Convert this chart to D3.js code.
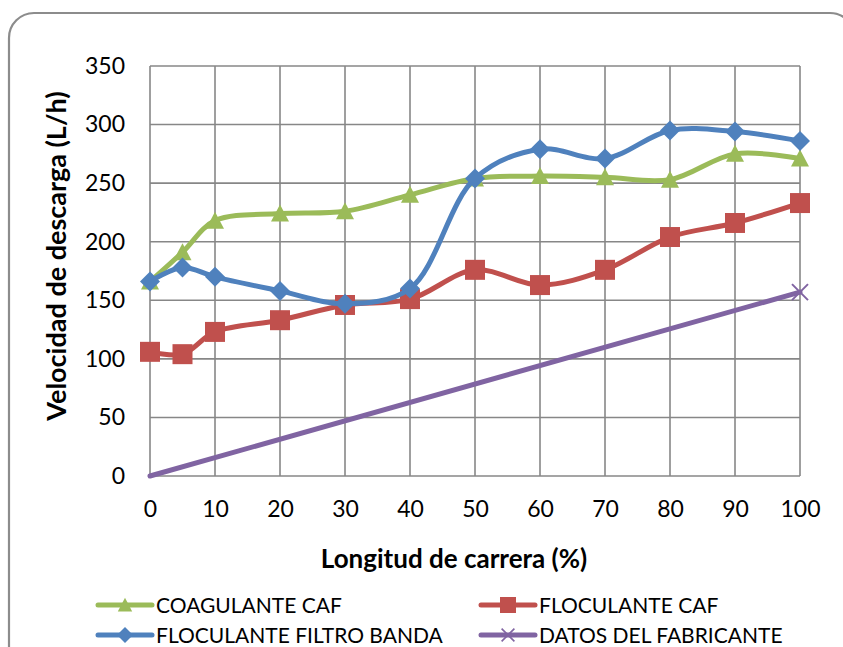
<!DOCTYPE html>
<html>
<head>
<meta charset="utf-8">
<script src="https://cdn.jsdelivr.net/npm/d3@7"></script>
<style>
  html, body { margin: 0; padding: 0; background: #fff; }
  svg { display: block; font-family: Lato, "Open Sans", sans-serif; }
</style>
</head>
<body>
<svg id="chart" width="843" height="647"></svg>
<script>
// Longitud de carrera (%) on x, velocidad de descarga (L/h) on y
const xValues = [0, 5, 10, 20, 30, 40, 50, 60, 70, 80, 90, 100];
const coagulanteCAF = [166, 191, 218, 224, 226, 240, 254, 256, 255, 253, 275, 271];
const floculanteCAF = [106, 104, 123, 133, 146, 151, 176, 163, 176, 204, 216, 233];
const floculanteFiltroBanda = [166, 178, 170, 158, 147, 160, 254, 279, 271, 295, 294, 286];
const fabricanteX = [0, 100];
const fabricanteY = [0, 157];

const xTicks = [0, 10, 20, 30, 40, 50, 60, 70, 80, 90, 100];
const yTicks = [0, 50, 100, 150, 200, 250, 300, 350];

const seriesNames = ["COAGULANTE CAF", "FLOCULANTE CAF", "FLOCULANTE FILTRO BANDA", "DATOS DEL FABRICANTE"];
const seriesColors = ["#9BBB59", "#C0504D", "#4F81BD", "#8064A2"];
const seriesMarkers = ["triangle", "square", "diamond", "cross"];

const svg = d3.select("#chart");

// Outer rounded frame
svg.append("rect")
  .attr("x", 9).attr("y", 13)
  .attr("width", 846).attr("height", 680)
  .attr("rx", 25).attr("ry", 25)
  .attr("fill", "#fff")
  .attr("stroke", "#8c8c8c")
  .attr("stroke-width", 2.2);

const plot = { left: 150, right: 800, top: 66, bottom: 476 };

const x = d3.scaleLinear().domain([0, 100]).range([plot.left, plot.right]);
const y = d3.scaleLinear().domain([0, 350]).range([plot.bottom, plot.top]);

const gridColor = "#878787";

// Grid
const grid = svg.append("g");
grid.selectAll("line.h").data(yTicks).join("line")
  .attr("x1", plot.left).attr("x2", plot.right)
  .attr("y1", d => y(d)).attr("y2", d => y(d))
  .attr("stroke", gridColor).attr("stroke-width", 1.6);
grid.selectAll("line.v").data(xTicks).join("line")
  .attr("x1", d => x(d)).attr("x2", d => x(d))
  .attr("y1", plot.top).attr("y2", plot.bottom)
  .attr("stroke", gridColor).attr("stroke-width", 1.6);

// Axes (labels only; lines come from the grid)
const yAxis = svg.append("g")
  .attr("transform", `translate(${plot.left},0)`)
  .call(d3.axisLeft(y).tickValues(yTicks).tickSize(0).tickPadding(25));
const xAxis = svg.append("g")
  .attr("transform", `translate(0,${plot.bottom})`)
  .call(d3.axisBottom(x).tickValues(xTicks).tickSize(0).tickPadding(25));
[yAxis, xAxis].forEach(a => {
  a.select(".domain").remove();
  a.selectAll("text")
    .attr("font-family", "Lato, 'Open Sans', sans-serif")
    .attr("font-size", 23)
    .attr("fill", "#000");
});

// Axis titles
svg.append("text")
  .attr("x", 454).attr("y", 568)
  .attr("text-anchor", "middle")
  .attr("font-size", 26).attr("font-weight", "bold")
  .text("Longitud de carrera (%)");
svg.append("text")
  .attr("transform", "translate(66,256) rotate(-90)")
  .attr("text-anchor", "middle")
  .attr("font-size", 27).attr("font-weight", "bold")
  .text("Velocidad de descarga (L/h)");

// Marker shapes
function markerPath(type) {
  switch (type) {
    case "triangle": return "M0,-9 L9,8 L-9,8 Z";
    case "square": return "M-10,-10 H10 V10 H-10 Z";
    case "diamond": return "M0,-10 L10,0 L0,10 L-10,0 Z";
    case "cross": return "M-8,-8 L8,8 M-8,8 L8,-8";
  }
}

function drawMarker(g, type, color, cx, cy) {
  const p = g.append("path")
    .attr("d", markerPath(type))
    .attr("transform", `translate(${cx},${cy})`);
  if (type === "cross") {
    p.attr("fill", "none").attr("stroke", color).attr("stroke-width", 2);
  } else {
    p.attr("fill", color);
  }
}

const smoothLine = d3.line()
  .x(d => x(d[0])).y(d => y(d[1]))
  .curve(d3.curveCatmullRom.alpha(0.5));
const straightLine = d3.line()
  .x(d => x(d[0])).y(d => y(d[1]));

const seriesData = [
  xValues.map((v, i) => [v, coagulanteCAF[i]]),
  xValues.map((v, i) => [v, floculanteCAF[i]]),
  xValues.map((v, i) => [v, floculanteFiltroBanda[i]]),
  fabricanteX.map((v, i) => [v, fabricanteY[i]])
];

const marks = svg.append("g");
seriesData.forEach((pts, s) => {
  const g = marks.append("g");
  g.append("path")
    .attr("d", s === 3 ? straightLine(pts) : smoothLine(pts))
    .attr("fill", "none")
    .attr("stroke", seriesColors[s])
    .attr("stroke-width", 5)
    .attr("stroke-linejoin", "round")
    .attr("stroke-linecap", "round");
  // the manufacturer series only marks its end point
  const markerPts = s === 3 ? pts.slice(-1) : pts;
  markerPts.forEach(p => drawMarker(g, seriesMarkers[s], seriesColors[s], x(p[0]), y(p[1])));
});

// Legend
const legendPos = [[98, 605], [481, 605], [98, 635], [481, 635]];
seriesNames.forEach((name, i) => {
  const [lx, ly] = legendPos[i];
  const g = svg.append("g");
  g.append("line")
    .attr("x1", lx).attr("x2", lx + 54)
    .attr("y1", ly).attr("y2", ly)
    .attr("stroke", seriesColors[i]).attr("stroke-width", 5)
    .attr("stroke-linecap", "round");
  const mg = g.append("g").attr("transform", `translate(${lx + 27},${ly}) scale(0.8)`);
  drawMarker(mg, seriesMarkers[i], seriesColors[i], 0, 0);
  g.append("text")
    .attr("x", lx + 58).attr("y", ly + 7.5)
    .attr("font-size", 21)
    .attr("fill", "#000")
    .text(name);
});
</script>
</body>
</html>
